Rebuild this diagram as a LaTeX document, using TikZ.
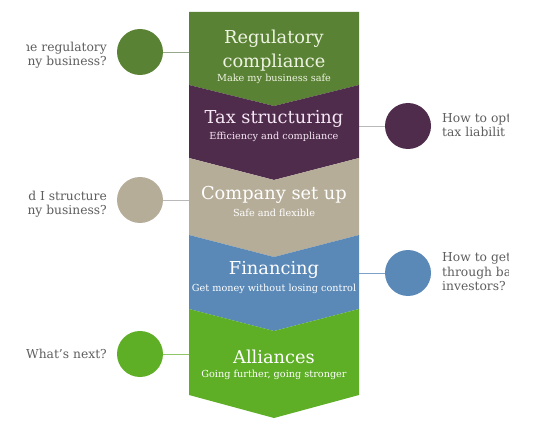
\documentclass[tikz,border=0pt]{standalone}
\usepackage{fontspec}
\setmainfont{DejaVu Serif}
\definecolor{cReg}{HTML}{5A8234}
\definecolor{cTax}{HTML}{4F2B4C}
\definecolor{cCo}{HTML}{B6AD99}
\definecolor{cFin}{HTML}{5A89B8}
\definecolor{cAll}{HTML}{5EAF26}
\definecolor{qgray}{HTML}{5E5E5E}
\definecolor{tReg}{HTML}{EEF4E2}
\definecolor{tTax}{HTML}{F6E8F4}
\begin{document}
\begin{tikzpicture}[x=1pt,y=-1pt,
  qtext/.style={font=\fontsize{12.3}{14.5}\selectfont, text=qgray, inner sep=0pt},
  qleft/.style={qtext, align=right, anchor=east},
  qright/.style={qtext, align=left, anchor=west},
  ttl/.style={font=\fontsize{17.8}{24}\selectfont, align=center, inner sep=0pt},
  subttl/.style={font=\fontsize{9.7}{11}\selectfont, inner sep=0pt},
  dot/.style={circle, minimum size=46pt, inner sep=0pt},
  link/.style={line width=0.9pt}]
\useasboundingbox (0,0) rectangle (552,425);
\fill[white] (0,0) rectangle (552,425);
% connector end points on column edges
\coordinate (eReg) at (189,52);
\coordinate (eTax) at (359,126);
\coordinate (eCo)  at (189,200);
\coordinate (eFin) at (359,273);
\coordinate (eAll) at (189,354);
% circles
\node[dot, fill=cReg] (dReg) at (140,52) {};
\node[dot, fill=cTax] (dTax) at (408,126) {};
\node[dot, fill=cCo]  (dCo)  at (140,200) {};
\node[dot, fill=cFin] (dFin) at (408,273) {};
\node[dot, fill=cAll] (dAll) at (140,354) {};
\draw[link, cReg!55!gray!70] (dReg.east) -- (eReg);
\draw[link, gray!55] (dTax.west) -- (eTax);
\draw[link, gray!55] (dCo.east) -- (eCo);
\draw[link, cFin!80!white] (dFin.west) -- (eFin);
\draw[link, cAll!70!white] (dAll.east) -- (eAll);
% chevron column
\fill[cReg] (189,12) -- (359,12) -- (359,85) -- (274,106) -- (189,85) -- cycle;
\fill[cTax] (189,85) -- (274,106) -- (359,85) -- (359,158) -- (274,180) -- (189,158) -- cycle;
\fill[cCo]  (189,158) -- (274,180) -- (359,158) -- (359,235) -- (274,257) -- (189,235) -- cycle;
\fill[cFin] (189,235) -- (274,257) -- (359,235) -- (359,309) -- (274,331) -- (189,309) -- cycle;
\fill[cAll] (189,309) -- (274,331) -- (359,309) -- (359,395) -- (274,418) -- (189,395) -- cycle;
% titles
\node[ttl, text=tReg] (tReg) at (274,51) {Regulatory\\compliance};
\node[subttl, text=tReg] (sReg) at (274,79) {Make my business safe};
\node[ttl, text=tTax] (tTax) at (274,119) {Tax structuring};
\node[subttl, text=tTax] (sTax) at (274,137) {Efficiency and compliance};
\node[ttl, text=white] (tCo) at (274,195) {Company set up};
\node[subttl, text=white] (sCo) at (274,213) {Safe and flexible};
\node[ttl, text=white] (tFin) at (274,270) {Financing};
\node[subttl, text=white] (sFin) at (274,289) {Get money without losing control};
\node[ttl, text=white] (tAll) at (274,357) {Alliances};
\node[subttl, text=white] (sAll) at (274,375) {Going further, going stronger};
% question texts (cropped at the sides as in the original)
\begin{scope}
\clip (26,0) rectangle (508,425);
\node[qleft] (qReg) at (107,55) {he regulatory\\ny business?};
\node[qleft] (qCo) at (107,204) {d I structure\\ny business?};
\node[qleft] (qAll) at (107,354) {What’s next?};
\node[qright] (qTax) at (442,125) {How to opt\\tax liabilit};
\node[qright] (qFin) at (442,272) {How to get\\through ba\\investors?};
\end{scope}
\end{tikzpicture}
\end{document}
